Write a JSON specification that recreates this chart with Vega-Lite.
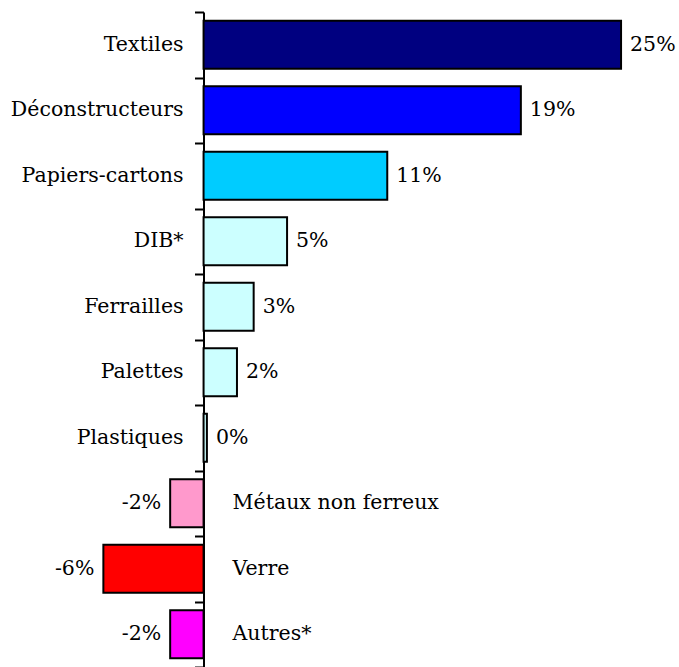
{
  "$schema": "https://vega.github.io/schema/vega-lite/v6.json",
  "width": 679,
  "height": 655,
  "padding": {"top": 12, "left": 0, "right": 0, "bottom": 0},
  "autosize": {"type": "none"},
  "background": "white",
  "config": {"view": {"stroke": null}, "text": {"font": "DejaVu Serif", "fontSize": 20.5, "fill": "black"}},
  "data": {"values": [
    {"cat": "Textiles", "value": 25, "label": "25%"},
    {"cat": "Déconstructeurs", "value": 19, "label": "19%"},
    {"cat": "Papiers-cartons", "value": 11, "label": "11%"},
    {"cat": "DIB*", "value": 5, "label": "5%"},
    {"cat": "Ferrailles", "value": 3, "label": "3%"},
    {"cat": "Palettes", "value": 2, "label": "2%"},
    {"cat": "Plastiques", "value": 0.2, "label": "0%"},
    {"cat": "Métaux non ferreux", "value": -2, "label": "-2%"},
    {"cat": "Verre", "value": -6, "label": "-6%"},
    {"cat": "Autres*", "value": -2, "label": "-2%"}
  ]},
  "encoding": {
    "y": {"field": "cat", "type": "nominal", "sort": null,
      "scale": {"paddingInner": 0, "paddingOuter": 0},
      "axis": {"title": null, "labels": false, "offset": -203.5, "domainColor": "black", "domainWidth": 2,
        "tickColor": "black", "tickWidth": 2, "tickSize": 9, "tickBand": "extent", "grid": false}}
  },
  "layer": [
    {
      "mark": {"type": "bar", "height": {"band": 0.73}, "stroke": "black", "strokeWidth": 2},
      "encoding": {
        "x": {"field": "value", "type": "quantitative", "scale": {"domain": [-12.19, 28.47], "nice": false, "zero": false}, "axis": null},
        "color": {"field": "cat", "type": "nominal", "legend": null,
          "scale": {"domain": ["Textiles", "Déconstructeurs", "Papiers-cartons", "DIB*", "Ferrailles", "Palettes", "Plastiques", "Métaux non ferreux", "Verre", "Autres*"],
            "range": ["#000080", "#0000FF", "#00CCFF", "#CCFFFF", "#CCFFFF", "#CCFFFF", "#CCFFFF", "#FF99CC", "#FF0000", "#FF00FF"]}}
      }
    },
    {
      "transform": [{"filter": "datum.value >= 0"}],
      "mark": {"type": "text", "align": "right", "baseline": "middle", "dx": -20},
      "encoding": {"x": {"datum": 0, "type": "quantitative"}, "text": {"field": "cat"}}
    },
    {
      "transform": [{"filter": "datum.value < 0"}],
      "mark": {"type": "text", "align": "left", "baseline": "middle", "dx": 29},
      "encoding": {"x": {"datum": 0, "type": "quantitative"}, "text": {"field": "cat"}}
    },
    {
      "transform": [{"filter": "datum.value >= 0"}],
      "mark": {"type": "text", "align": "left", "baseline": "middle", "dx": 9},
      "encoding": {"x": {"field": "value", "type": "quantitative"}, "text": {"field": "label"}}
    },
    {
      "transform": [{"filter": "datum.value < 0"}],
      "mark": {"type": "text", "align": "right", "baseline": "middle", "dx": -9},
      "encoding": {"x": {"field": "value", "type": "quantitative"}, "text": {"field": "label"}}
    }
  ]
}
